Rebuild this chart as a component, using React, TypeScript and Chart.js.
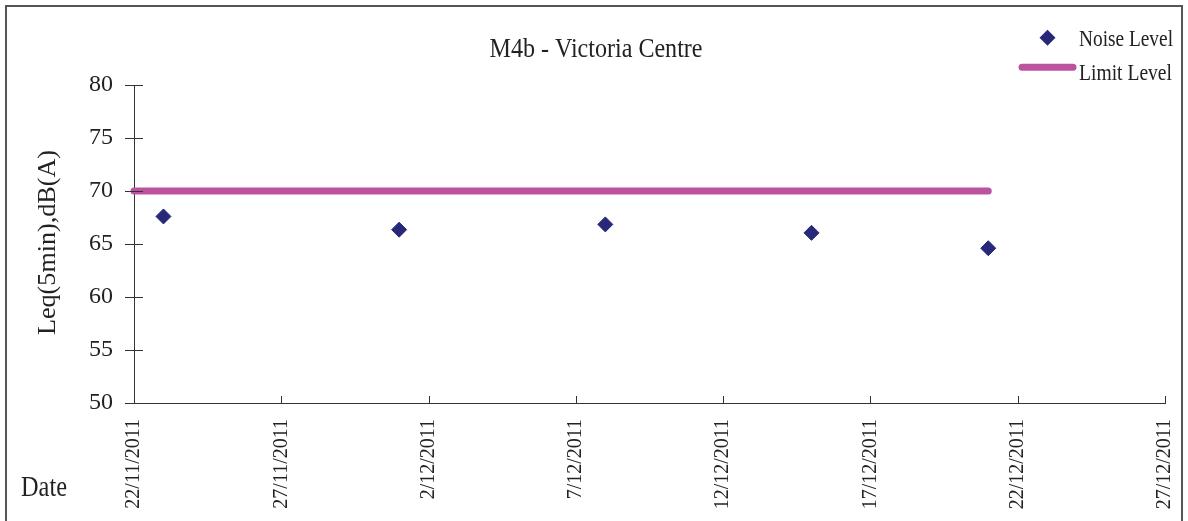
import React, { useEffect, useRef } from 'react';
import { Chart, registerables } from 'chart.js';

Chart.register(...registerables);

// ---- data ----
const chartTitle = 'M4b - Victoria Centre';
const yAxisTitle = 'Leq(5min),dB(A)';
const xAxisTitle = 'Date';
const noiseLabel = 'Noise Level';
const limitLabel = 'Limit Level';

const noiseDates = ['23/11/2011', '1/12/2011', '8/12/2011', '15/12/2011', '21/12/2011'];
const noiseValues = [67.6, 66.35, 66.85, 66.05, 64.6];

const limitDates = ['22/11/2011', '21/12/2011'];
const limitValues = [70, 70];

const xStartDate = '22/11/2011';
const xEndDate = '27/12/2011';
const xStepDays = 5;

const yMin = 50;
const yMax = 80;
const yStep = 5;

// ---- helpers ----
const DAY = 86400000;
function parseDate(s: string): number {
  const [d, m, y] = s.split('/').map(Number);
  return Date.UTC(y, m - 1, d);
}
const baseTime = parseDate(xStartDate);
const toDay = (s: string) => (parseDate(s) - baseTime) / DAY;
const fmtDay = (v: number) => {
  const d = new Date(baseTime + Math.round(v) * DAY);
  return `${d.getUTCDate()}/${d.getUTCMonth() + 1}/${d.getUTCFullYear()}`;
};

const FONT = '"Liberation Serif", "Times New Roman", serif';
const TEXT = '#222222';
const AXIS = '#333333';
const NAVY = '#27287A';
const MAGENTA = '#BC539F';

function drawText(
  ctx: CanvasRenderingContext2D,
  text: string,
  x: number,
  y: number,
  size: number,
  targetWidth: number,
  align: 'left' | 'center',
  rotate = false
) {
  ctx.save();
  ctx.font = `${size}px ${FONT}`;
  const w = ctx.measureText(text).width;
  ctx.translate(x, y);
  if (rotate) ctx.rotate(-Math.PI / 2);
  ctx.scale(targetWidth / w, 1);
  ctx.fillStyle = TEXT;
  ctx.textAlign = align;
  ctx.textBaseline = 'alphabetic';
  ctx.fillText(text, 0, 0);
  ctx.restore();
}

const decorPlugin = {
  id: 'decor',
  beforeDraw(chart: any) {
    const ctx: CanvasRenderingContext2D = chart.ctx;
    ctx.save();
    ctx.fillStyle = '#ffffff';
    ctx.fillRect(0, 0, chart.width, chart.height);
    ctx.strokeStyle = '#555555';
    ctx.lineWidth = 2;
    ctx.strokeRect(6, 6, 1176, 540);
    ctx.restore();
  },
  afterDraw(chart: any) {
    const ctx: CanvasRenderingContext2D = chart.ctx;
    const { left, bottom } = chart.chartArea;
    const xs = chart.scales.x;
    const ys = chart.scales.y;
    ctx.save();
    ctx.strokeStyle = AXIS;
    ctx.lineWidth = 1;
    ctx.beginPath();
    ys.ticks.forEach((t: any) => {
      const py = Math.round(ys.getPixelForValue(t.value)) + 0.5;
      ctx.moveTo(left - 9, py);
      ctx.lineTo(left + 9, py);
    });
    xs.ticks.forEach((t: any) => {
      const px = Math.round(xs.getPixelForValue(t.value)) + 0.5;
      ctx.moveTo(px, bottom);
      ctx.lineTo(px, bottom - 7);
    });
    ctx.stroke();
    ctx.restore();

    // titles
    drawText(ctx, chartTitle, 596, 56.5, 28, 213, 'center');
    drawText(ctx, yAxisTitle, 55, 242.5, 26, 185, 'center', true);
    drawText(ctx, xAxisTitle, 21, 496, 29, 46, 'left');

    // legend
    ctx.save();
    ctx.fillStyle = NAVY;
    ctx.beginPath();
    const cx = 1047.5, cy = 37.7, r = 8;
    ctx.moveTo(cx, cy - r);
    ctx.lineTo(cx + r, cy);
    ctx.lineTo(cx, cy + r);
    ctx.lineTo(cx - r, cy);
    ctx.closePath();
    ctx.fill();
    ctx.strokeStyle = MAGENTA;
    ctx.lineWidth = 7;
    ctx.lineCap = 'round';
    ctx.beginPath();
    ctx.moveTo(1022, 67.3);
    ctx.lineTo(1073, 67.3);
    ctx.stroke();
    ctx.restore();
    drawText(ctx, noiseLabel, 1079, 45.5, 23, 94, 'left');
    drawText(ctx, limitLabel, 1079, 80, 23, 93, 'left');
  },
};

export default function App() {
  const canvasRef = useRef<HTMLCanvasElement | null>(null);

  useEffect(() => {
    const canvas = canvasRef.current;
    if (!canvas) return;
    const chart = new Chart(canvas, {
      type: 'line',
      data: {
        datasets: [
          {
            label: noiseLabel,
            data: noiseDates.map((d, i) => ({ x: toDay(d), y: noiseValues[i] })),
            showLine: false,
            pointStyle: 'rectRot',
            pointRadius: 7.5,
            pointHoverRadius: 7.5,
            pointBackgroundColor: NAVY,
            pointBorderColor: NAVY,
            pointBorderWidth: 1,
            backgroundColor: NAVY,
            borderColor: NAVY,
          },
          {
            label: limitLabel,
            data: limitDates.map((d, i) => ({ x: toDay(d), y: limitValues[i] })),
            borderColor: MAGENTA,
            backgroundColor: MAGENTA,
            borderWidth: 7,
            borderCapStyle: 'round',
            pointRadius: 0,
            pointHoverRadius: 0,
            fill: false,
            clip: false as any,
          },
        ],
      },
      options: {
        animation: false,
        responsive: false,
        devicePixelRatio: 1,
        events: [],
        layout: { padding: { top: 85, right: 23, left: 0, bottom: 0 } },
        plugins: {
          legend: { display: false },
          title: { display: false },
          tooltip: { enabled: false },
        },
        scales: {
          x: {
            type: 'linear',
            min: 0,
            max: toDay(xEndDate),
            afterFit: (s: any) => {
              s.height = 118;
              s.paddingLeft = 0;
              s.paddingRight = 0;
            },
            ticks: {
              stepSize: xStepDays,
              autoSkip: false,
              minRotation: 90,
              maxRotation: 90,
              padding: 16,
              color: TEXT,
              font: { family: FONT, size: 20 },
              callback: (v: any) => fmtDay(Number(v)),
            },
            grid: { display: false, drawOnChartArea: false, drawTicks: false },
            border: { display: true, color: AXIS, width: 1 },
          },
          y: {
            type: 'linear',
            min: yMin,
            max: yMax,
            afterFit: (s: any) => {
              s.width = 134;
              s.paddingTop = 0;
              s.paddingBottom = 0;
            },
            ticks: {
              stepSize: yStep,
              padding: 21,
              color: TEXT,
              font: { family: FONT, size: 24 },
            },
            grid: { display: false, drawOnChartArea: false, drawTicks: false },
            border: { display: true, color: AXIS, width: 1 },
          },
        },
      },
      plugins: [decorPlugin],
    });
    return () => chart.destroy();
  }, []);

  return (
    <div style={{ position: 'absolute', left: 0, top: 0, width: 1188, height: 521 }}>
      <canvas ref={canvasRef} width={1188} height={521} style={{ display: 'block', width: 1188, height: 521 }} />
    </div>
  );
}
